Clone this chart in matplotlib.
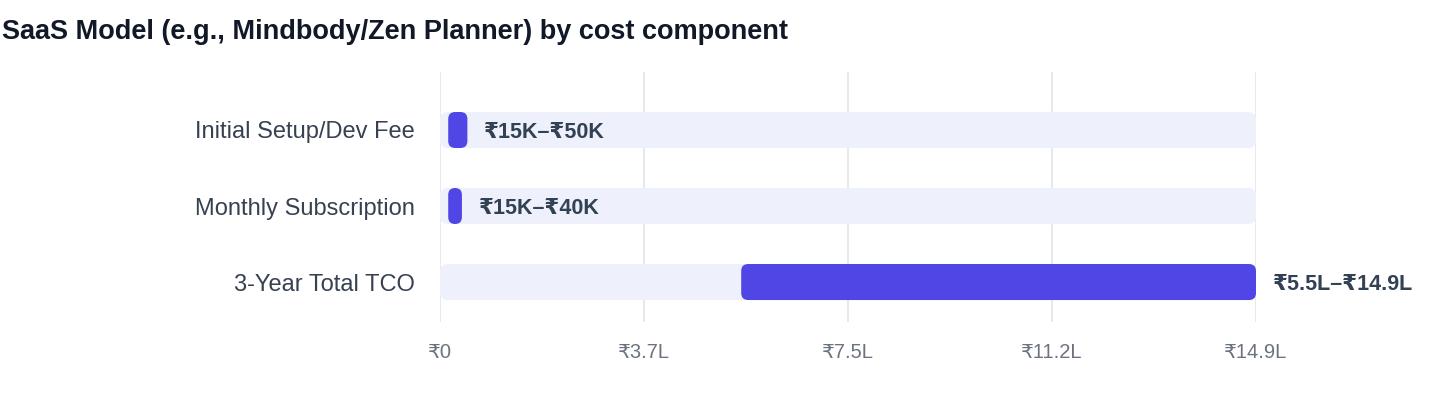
import matplotlib
matplotlib.use('Agg')
import matplotlib.pyplot as plt
from matplotlib.patches import FancyBboxPatch

# data (values in lakh rupees)
components = ['Initial Setup/Dev Fee', 'Monthly Subscription', '3-Year Total TCO']
low_vals = [0.15, 0.15, 5.5]
high_vals = [0.5, 0.4, 14.9]
range_labels = ['₹15K–₹50K', '₹15K–₹40K', '₹5.5L–₹14.9L']
x_ticks = [0, 3.725, 7.45, 11.175, 14.9]
x_tick_labels = ['₹0', '₹3.7L', '₹7.5L', '₹11.2L', '₹14.9L']
x_max = 14.9

PURPLE = '#4f46e5'
TRACK = '#eef0fc'
GRID = '#e5e7eb'
plt.rcParams['font.family'] = ['Liberation Sans', 'DejaVu Sans']

fig = plt.figure(figsize=(14.4, 4.08), dpi=100)
ax = fig.add_axes([440/1440, 1 - 322/408, 816/1440, 250/408])
ax.set_xlim(0, x_max)
ax.set_ylim(2.526, -0.763)

# aspect correction for rounded corners (data units per pixel)
px_x = x_max / 816
px_y = (2.526 + 0.763) / 250
asp = px_y / px_x
bh = 36 * px_y

for i, name in enumerate(components):
    track = FancyBboxPatch((0, i - bh/2), x_max, bh,
                           boxstyle=f'round,pad=0,rounding_size={8*px_x}',
                           mutation_aspect=asp, fc=TRACK, ec='none', zorder=2)
    ax.add_patch(track)
    w = high_vals[i] - low_vals[i]
    bar = FancyBboxPatch((low_vals[i], i - bh/2), w, bh,
                         boxstyle=f'round,pad=0,rounding_size={min(7*px_x, w/2)}',
                         mutation_aspect=asp, fc=PURPLE, ec='none', zorder=3)
    ax.add_patch(bar)
    ax.annotate(range_labels[i], (high_vals[i], i), xytext=(12, 0), textcoords='offset points',
                ha='left', va='center_baseline', fontsize=15.5, fontweight='bold',
                color='#334155', zorder=4)

ax.set_yticks(range(len(components)))
ax.set_yticklabels(components, fontsize=17, color='#374151')
ax.set_xticks(x_ticks)
ax.set_xticklabels(x_tick_labels, fontsize=14.5, color='#6b7280')
ax.tick_params(axis='both', length=0)
ax.tick_params(axis='y', pad=18)
ax.tick_params(axis='x', pad=15)
ax.grid(axis='x', color=GRID, linewidth=1.3, zorder=0)
ax.set_axisbelow(True)
for s in ax.spines.values():
    s.set_visible(False)

fig.text(2/1440, 1 - 32/408, 'SaaS Model (e.g., Mindbody/Zen Planner) by cost component',
         fontsize=19.5, fontweight='bold', color='#111827', ha='left', va='center')

fig.savefig('out.png', dpi=100)
